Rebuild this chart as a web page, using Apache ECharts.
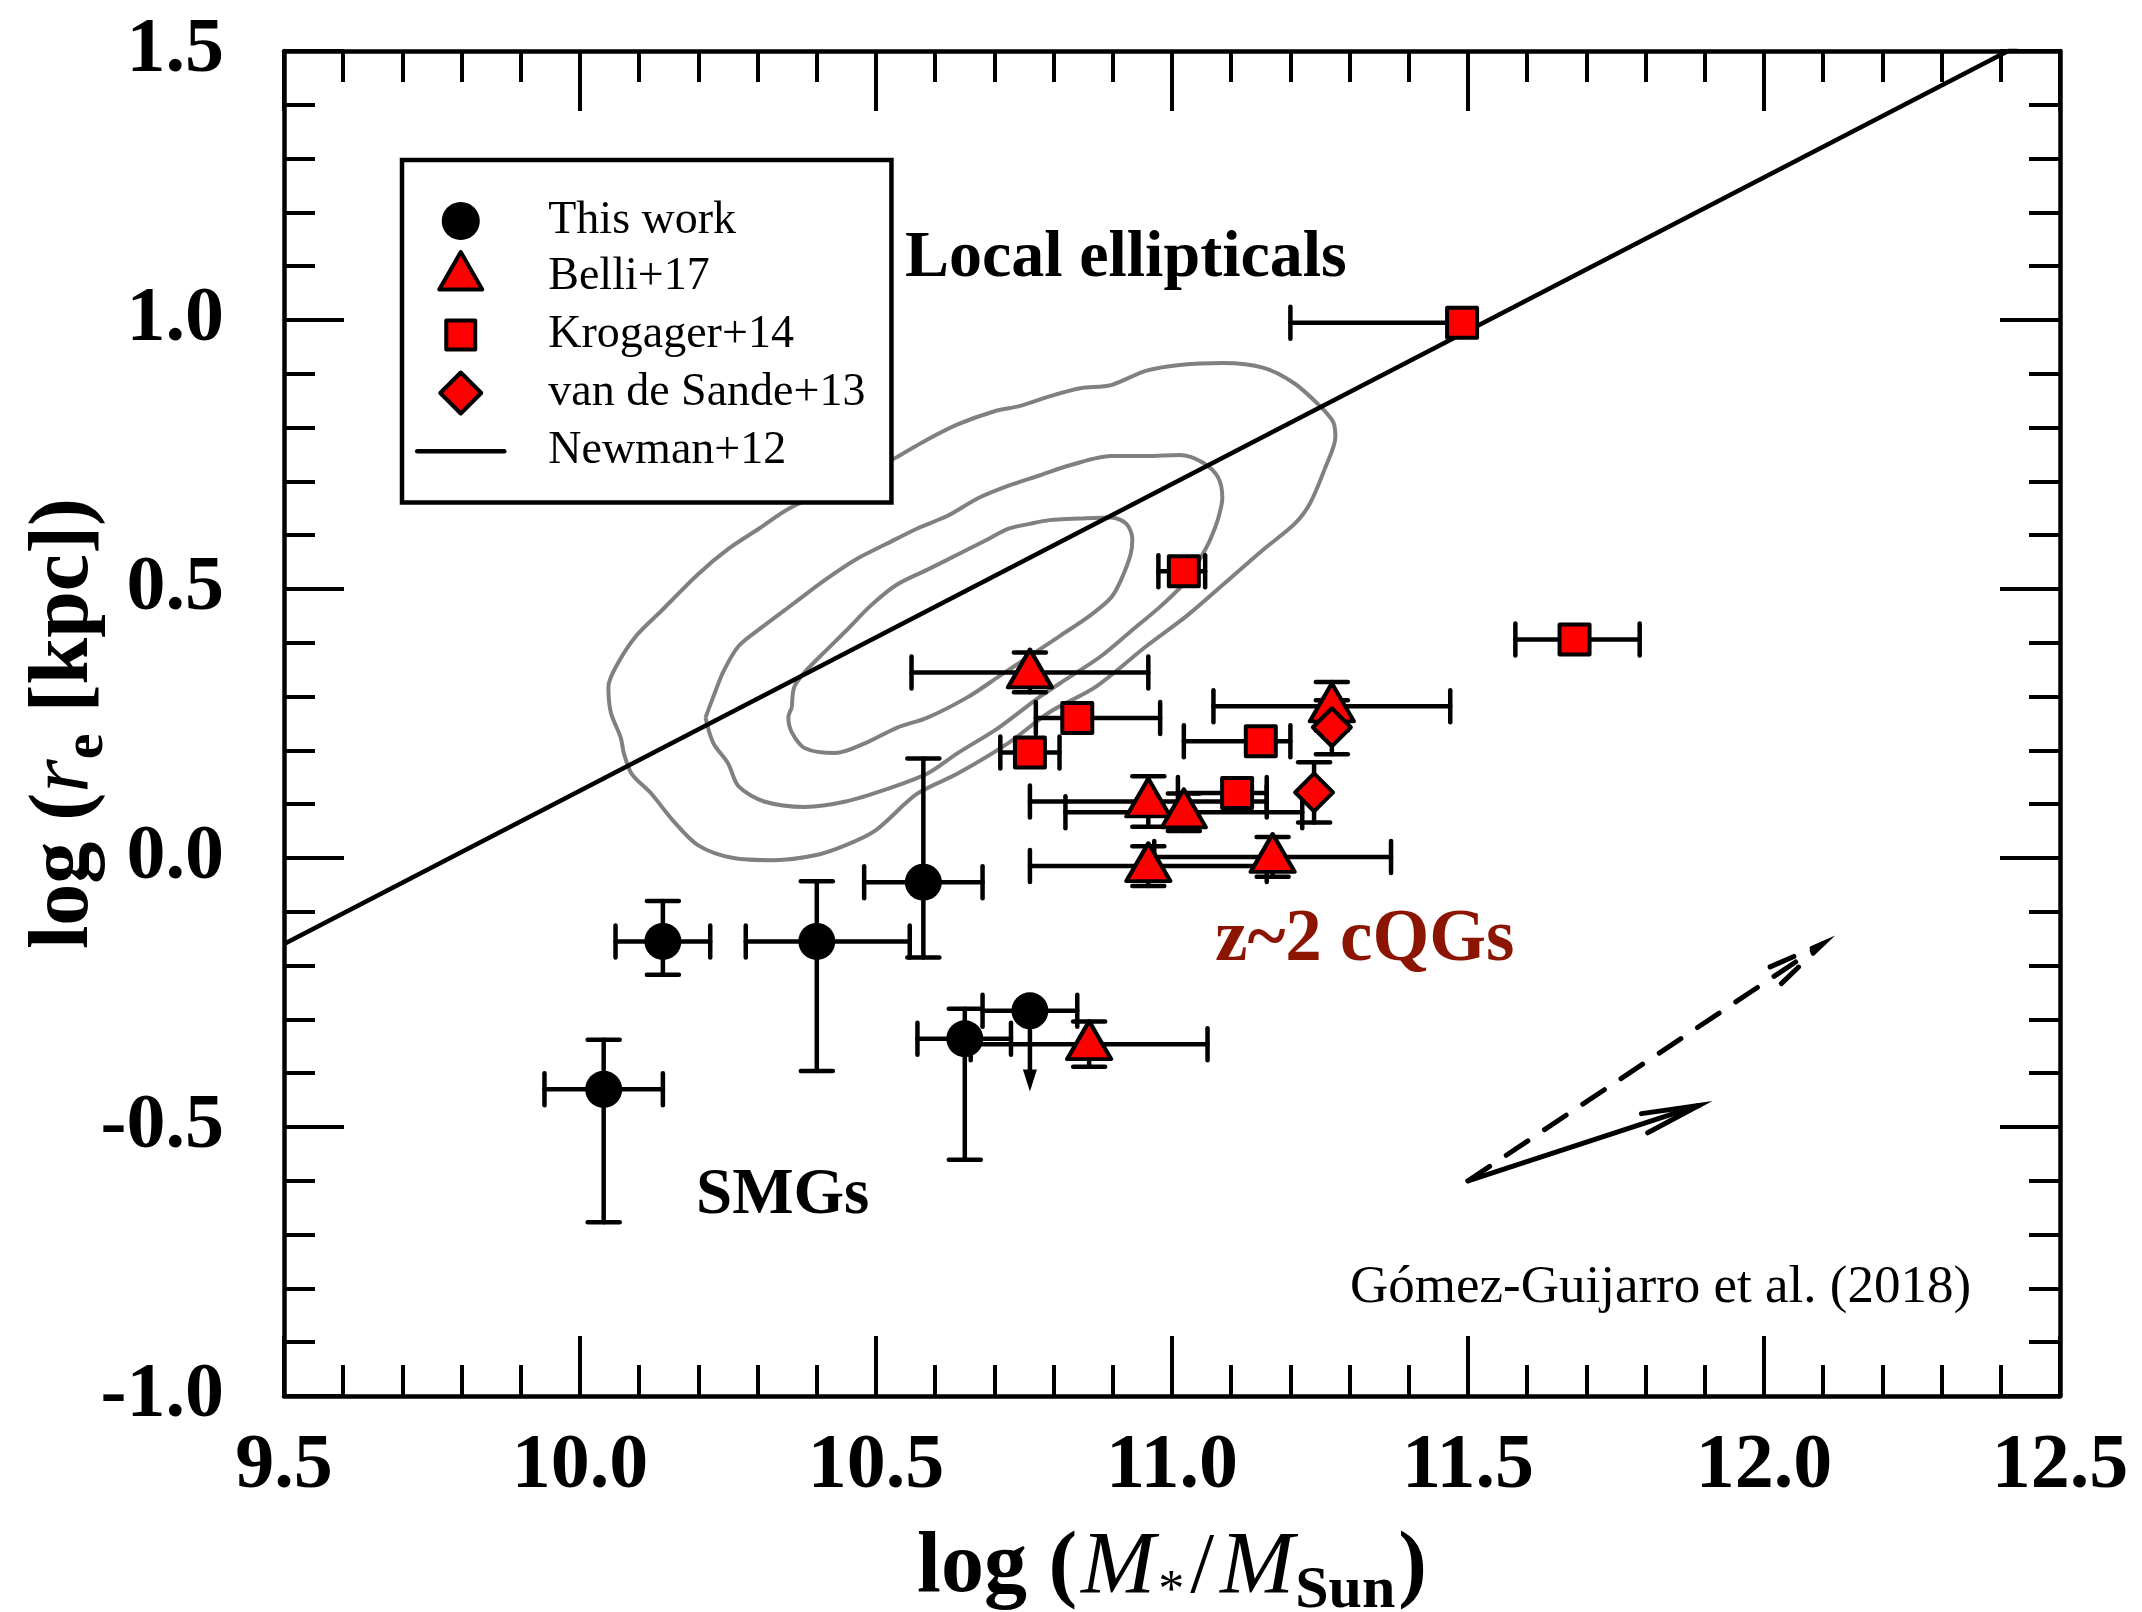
<!DOCTYPE html>
<html>
<head>
<meta charset="utf-8">
<script src="https://cdn.jsdelivr.net/npm/echarts@6/dist/echarts.min.js"></script>
<style>
html,body{margin:0;padding:0;background:#fff;}
#chart{width:2142px;height:1612px;}
</style>
</head>
<body>
<div id="chart"></div>
<script>
// ---------- axes ----------
const xRange = [9.5, 12.5];
const yRange = [-1.0, 1.5];
const majorStep = 0.5;

// ---------- This work (SMGs) ----------
const thisWorkX       = [10.04, 10.14, 10.40, 10.58, 10.65, 10.76];
const thisWorkY       = [-0.430, -0.155, -0.155, -0.045, -0.336, -0.284];
const thisWorkXErrLo  = [0.10, 0.08, 0.12, 0.10, 0.08, 0.08];
const thisWorkXErrHi  = [0.10, 0.08, 0.157, 0.10, 0.078, 0.08];
const thisWorkYErrLo  = [0.247, 0.062, 0.241, 0.140, 0.225, 0];
const thisWorkYErrHi  = [0.092, 0.075, 0.112, 0.230, 0.056, 0];
const thisWorkUpperLimit = [0, 0, 0, 0, 0, 0.15];

// ---------- Belli+17 ----------
const belliX    = [10.76, 10.96, 11.02, 10.96, 11.17, 11.27, 10.86];
const belliY    = [0.345, 0.105, 0.085, -0.015, 0.002, 0.282, -0.346];
const belliXErr = [0.20, 0.20, 0.20, 0.20, 0.20, 0.20, 0.20];
const belliYErr = [0.037, 0.047, 0.035, 0.037, 0.037, 0.045, 0.042];

// ---------- Krogager+14 ----------
const krogX      = [11.49, 11.02, 11.68, 10.84, 10.76, 11.15, 11.11];
const krogY      = [0.995, 0.533, 0.406, 0.260, 0.196, 0.217, 0.121];
const krogXErrLo = [0.29, 0.043, 0.10, 0.07, 0.05, 0.13, 0.10];
const krogXErrHi = [0.0, 0.036, 0.11, 0.14, 0.05, 0.05, 0.05];

// ---------- van de Sande+13 ----------
const vdsX    = [11.27, 11.24];
const vdsY    = [0.243, 0.122];
const vdsYErr = [0.050, 0.056];

// ---------- Newman+12 relation ----------
const newmanX = [9.5, 12.5];
const newmanY = [-0.160, 1.550];

// ---------- Local ellipticals contours ----------
const outerContourX = [10.535,10.587,10.638,10.699,10.742,10.793,10.845,10.897,10.957,11.017,11.086,11.155,11.207,11.250,11.272,11.276,11.259,11.233,11.207,11.155,11.086,11.026,10.957,10.871,10.793,10.724,10.638,10.569,10.500,10.449,10.397,10.328,10.259,10.199,10.156,10.121,10.087,10.074,10.069,10.052,10.048,10.061,10.095,10.138,10.199,10.250,10.302,10.354,10.450,10.535];
const outerContourY = [0.745,0.778,0.806,0.830,0.840,0.858,0.873,0.879,0.906,0.917,0.920,0.911,0.882,0.840,0.811,0.783,0.726,0.659,0.621,0.574,0.508,0.451,0.394,0.318,0.271,0.214,0.157,0.119,0.052,0.024,0.005,-0.004,0.000,0.024,0.071,0.119,0.157,0.195,0.223,0.271,0.318,0.356,0.413,0.460,0.527,0.574,0.612,0.650,0.700,0.745];

const middleContourX = [10.212,10.225,10.242,10.268,10.311,10.362,10.414,10.466,10.518,10.569,10.621,10.673,10.724,10.776,10.828,10.897,10.957,11.013,11.052,11.078,11.085,11.078,11.065,11.052,11.026,10.983,10.931,10.880,10.828,10.776,10.707,10.638,10.587,10.518,10.449,10.380,10.311,10.268,10.250,10.225,10.212];
const middleContourY = [0.261,0.299,0.346,0.394,0.432,0.474,0.517,0.555,0.584,0.612,0.636,0.669,0.692,0.711,0.730,0.747,0.747,0.749,0.735,0.707,0.669,0.631,0.593,0.565,0.517,0.470,0.422,0.375,0.337,0.299,0.242,0.195,0.157,0.128,0.105,0.095,0.105,0.133,0.176,0.214,0.261];

const innerContourX = [10.358,10.362,10.380,10.414,10.449,10.492,10.535,10.587,10.638,10.690,10.724,10.759,10.793,10.845,10.897,10.923,10.933,10.930,10.914,10.897,10.862,10.811,10.759,10.707,10.655,10.587,10.535,10.483,10.431,10.380,10.358,10.352,10.358];
const innerContourY = [0.280,0.318,0.346,0.384,0.422,0.470,0.508,0.536,0.564,0.593,0.612,0.621,0.628,0.631,0.633,0.621,0.593,0.564,0.517,0.484,0.451,0.413,0.375,0.337,0.299,0.261,0.242,0.214,0.195,0.204,0.233,0.261,0.280];

// ---------- evolution arrows ----------
const arrowStartX = [11.50, 11.50];
const arrowStartY = [-0.600, -0.600];
const arrowEndX   = [11.89, 12.10];
const arrowEndY   = [-0.460, -0.159];
const arrowDashed = [0, 1];

// ---------- helpers ----------
const zip2 = (a, b) => a.map((v, i) => [v, b[i]]);
const errData = (xs, ys, xlo, xhi, ylo, yhi, lim) =>
  xs.map((v, i) => [v, ys[i], xlo ? xlo[i] : 0, xhi ? xhi[i] : 0, ylo ? ylo[i] : 0, yhi ? yhi[i] : 0, lim ? lim[i] : 0]);

const FONT = '"Liberation Serif", "Times New Roman", serif';

function errorRender(params, api) {
  const x = api.value(0), y = api.value(1);
  const xlo = api.value(2), xhi = api.value(3), ylo = api.value(4), yhi = api.value(5), lim = api.value(6);
  const c = api.coord([x, y]);
  const cap = 16;
  const st = { stroke: '#000', lineWidth: 4.5, lineCap: 'round' };
  const ch = [];
  const seg = (x1, y1, x2, y2) => ch.push({ type: 'line', shape: { x1, y1, x2, y2 }, style: st });
  if (xlo > 0) { const p = api.coord([x - xlo, y]); seg(p[0], c[1], c[0], c[1]); seg(p[0], c[1] - cap, p[0], c[1] + cap); }
  if (xhi > 0) { const p = api.coord([x + xhi, y]); seg(c[0], c[1], p[0], c[1]); seg(p[0], c[1] - cap, p[0], c[1] + cap); }
  if (yhi > 0) { const p = api.coord([x, y + yhi]); seg(c[0], p[1], c[0], c[1]); seg(c[0] - cap, p[1], c[0] + cap, p[1]); }
  if (ylo > 0) { const p = api.coord([x, y - ylo]); seg(c[0], c[1], c[0], p[1]); seg(c[0] - cap, p[1], c[0] + cap, p[1]); }
  if (lim > 0) {
    const p = api.coord([x, y - lim]);
    seg(c[0], c[1], c[0], p[1] - 18);
    ch.push({ type: 'polygon', shape: { points: [[c[0] - 7, p[1] - 22], [c[0] + 7, p[1] - 22], [c[0], p[1]]] }, style: { fill: '#000' } });
  }
  return { type: 'group', children: ch };
}

function arrowRender(params, api) {
  const p0 = api.coord([api.value(0), api.value(1)]);
  const p1 = api.coord([api.value(2), api.value(3)]);
  const dashed = api.value(4) > 0;
  const st = { stroke: '#000', lineWidth: 5, lineCap: 'round', fill: null };
  if (dashed) st.lineDash = [26, 20];
  const ang = Math.atan2(p0[1] - p1[1], p0[0] - p1[0]);
  const L = 58, da = 10 * Math.PI / 180;
  const w1 = [p1[0] + L * Math.cos(ang + da), p1[1] + L * Math.sin(ang + da)];
  const w2 = [p1[0] + L * Math.cos(ang - da), p1[1] + L * Math.sin(ang - da)];
  return { type: 'group', children: [
    { type: 'line', shape: { x1: p0[0], y1: p0[1], x2: p1[0], y2: p1[1] }, style: st },
    { type: 'polyline', shape: { points: [w1, p1, w2] }, style: st }
  ] };
}

// legend icons: drawn inside an 87 x 50 box (bounding points keep the proportions)
const LW = 87, LH = 50, LC = LH / 2;
const box = 'M0,0M' + LW + ',' + LH;
const circleIcon = (() => {
  let s = box; const r = 19, n = 48;
  for (let k = 0; k <= n; k++) {
    const a = 2 * Math.PI * k / n;
    s += (k === 0 ? 'M' : 'L') + (LW / 2 + r * Math.cos(a)).toFixed(2) + ',' + (LC + r * Math.sin(a)).toFixed(2);
  }
  return 'path://' + s + 'Z';
})();
const triIcon = 'path://' + box + 'M43.5,0L65,37.5L22,37.5Z';
const rectIcon = 'path://' + box + 'M29,10.5L58,10.5L58,39.5L29,39.5Z';
const diaIcon = 'path://' + box + 'M43.5,4.5L64,25L43.5,45.5L23,25Z';
const lineIcon = 'path://' + box + 'M0,25L87,25';

const axisLineStyle = { color: '#000', width: 4.5 };
const tickCfg = { show: true, inside: true, length: 60, lineStyle: { color: '#000', width: 4 } };
const minorCfg = { show: true, splitNumber: 5, length: 31, lineStyle: { color: '#000', width: 4 } };
const tickLabel = {
  fontFamily: FONT, fontWeight: 'bold', fontSize: 78, color: '#000',
  showMinLabel: true, showMaxLabel: true, formatter: v => v.toFixed(1)
};

const contourSeries = (xs, ys) => ({
  type: 'line', data: zip2(xs, ys), showSymbol: false, symbol: 'none', smooth: 0.3,
  lineStyle: { color: '#808080', width: 4 }, z: 1, silent: true
});

const xTitleRich = {
  b: { fontFamily: FONT, fontWeight: 'bold', fontSize: 86, color: '#000' },
  bl: { fontFamily: FONT, fontWeight: 'bold', fontSize: 86, color: '#000', padding: [0, 4, 0, 0] },
  i: { fontFamily: FONT, fontStyle: 'italic', fontSize: 89, color: '#000' },
  s: { fontFamily: FONT, fontSize: 52, color: '#000', padding: [46, 6, 0, 3] },
  sl: { fontFamily: FONT, fontSize: 86, color: '#000', padding: [0, 6, 0, 0] },
  sub: { fontFamily: FONT, fontWeight: 'bold', fontSize: 60, color: '#000', padding: [44, 3, 0, 1] }
};
const yTitleRich = {
  b: { fontFamily: FONT, fontWeight: 'bold', fontSize: 84, color: '#000' },
  i: { fontFamily: FONT, fontStyle: 'italic', fontSize: 86, color: '#000' },
  sub: { fontFamily: FONT, fontWeight: 'bold', fontSize: 58, color: '#000', padding: [43, 0, 0, 0] }
};

const option = {
  animation: false,
  backgroundColor: '#fff',
  grid: { left: 284, right: 82, top: 51, bottom: 216, containLabel: false, outerBoundsMode: 'none' },
  xAxis: [
    {
      type: 'value', min: xRange[0], max: xRange[1], interval: majorStep, position: 'bottom',
      axisLine: { show: true, onZero: false, lineStyle: axisLineStyle },
      axisTick: tickCfg, minorTick: minorCfg, splitLine: { show: false },
      axisLabel: Object.assign({ margin: 32 }, tickLabel),
      name: '{bl|log (}{i|M}{s|*}{sl|/}{i|M}{sub|Sun}{b|)}',
      nameLocation: 'middle', nameGap: 121, nameMoveOverlap: false,
      nameTextStyle: { rich: xTitleRich }
    },
    {
      type: 'value', min: xRange[0], max: xRange[1], interval: majorStep, position: 'top',
      axisLine: { show: true, onZero: false, lineStyle: axisLineStyle },
      axisTick: tickCfg, minorTick: minorCfg, splitLine: { show: false },
      axisLabel: { show: false }
    }
  ],
  yAxis: [
    {
      type: 'value', min: yRange[0], max: yRange[1], interval: majorStep, position: 'left',
      axisLine: { show: true, onZero: false, lineStyle: axisLineStyle },
      axisTick: tickCfg, minorTick: minorCfg, splitLine: { show: false },
      axisLabel: Object.assign({ margin: 60 }, tickLabel),
      name: '{b|log (}{i|r}{sub|e}{b| [kpc])}',
      nameLocation: 'middle', nameGap: 168, nameMoveOverlap: false,
      nameTextStyle: { rich: yTitleRich }
    },
    {
      type: 'value', min: yRange[0], max: yRange[1], interval: majorStep, position: 'right',
      axisLine: { show: true, onZero: false, lineStyle: axisLineStyle },
      axisTick: tickCfg, minorTick: minorCfg, splitLine: { show: false },
      axisLabel: { show: false }
    }
  ],
  legend: {
    orient: 'vertical', left: 402, top: 160,
    selectedMode: false, symbolKeepAspect: true,
    backgroundColor: '#fff', borderColor: '#000', borderWidth: 4.5, borderRadius: 0,
    padding: [36, 26, 24, 13],
    itemWidth: LW, itemHeight: LH, itemGap: 4,
    textStyle: { fontFamily: FONT, fontSize: 46, color: '#000', padding: [0, 0, 0, 39] },
    data: [
      { name: 'This work', icon: circleIcon, itemStyle: { color: '#000', borderWidth: 0 } },
      { name: 'Belli+17', icon: triIcon, itemStyle: { color: '#ff0000', borderWidth: 4, borderColor: '#000', borderJoin: 'round' } },
      { name: 'Krogager+14', icon: rectIcon, itemStyle: { color: '#ff0000', borderWidth: 4, borderColor: '#000', borderJoin: 'round' } },
      { name: 'van de Sande+13', icon: diaIcon, itemStyle: { color: '#ff0000', borderWidth: 4, borderColor: '#000', borderJoin: 'round' } },
      { name: 'Newman+12', icon: lineIcon, itemStyle: { color: 'rgba(0,0,0,0)', borderWidth: 4.5, borderColor: '#000', borderCap: 'round' } }
    ],
    z: 10
  },
  series: [
    contourSeries(outerContourX, outerContourY),
    contourSeries(middleContourX, middleContourY),
    contourSeries(innerContourX, innerContourY),
    {
      name: 'Newman+12', type: 'line', data: zip2(newmanX, newmanY), symbol: 'none', showSymbol: false,
      lineStyle: { color: '#000', width: 4.5 }, itemStyle: { color: '#000' }, z: 2, clip: true, silent: true
    },
    {
      type: 'custom', name: 'arrows', renderItem: arrowRender, z: 2, silent: true,
      data: arrowStartX.map((v, i) => [v, arrowStartY[i], arrowEndX[i], arrowEndY[i], arrowDashed[i]]),
      encode: { x: 0, y: 1 }
    },
    {
      type: 'custom', name: 'errThisWork', renderItem: errorRender, z: 3, silent: true,
      data: errData(thisWorkX, thisWorkY, thisWorkXErrLo, thisWorkXErrHi, thisWorkYErrLo, thisWorkYErrHi, thisWorkUpperLimit),
      encode: { x: 0, y: 1 }
    },
    {
      type: 'custom', name: 'errBelli', renderItem: errorRender, z: 3, silent: true,
      data: errData(belliX, belliY, belliXErr, belliXErr, belliYErr, belliYErr, null),
      encode: { x: 0, y: 1 }
    },
    {
      type: 'custom', name: 'errKrog', renderItem: errorRender, z: 3, silent: true,
      data: errData(krogX, krogY, krogXErrLo, krogXErrHi, null, null, null),
      encode: { x: 0, y: 1 }
    },
    {
      type: 'custom', name: 'errVds', renderItem: errorRender, z: 3, silent: true,
      data: errData(vdsX, vdsY, null, null, vdsYErr, vdsYErr, null),
      encode: { x: 0, y: 1 }
    },
    {
      name: 'This work', type: 'scatter', data: zip2(thisWorkX, thisWorkY),
      symbol: 'circle', symbolSize: 37, itemStyle: { color: '#000', opacity: 1 }, z: 5, silent: true
    },
    {
      name: 'Belli+17', type: 'scatter', data: zip2(belliX, belliY),
      symbol: 'triangle', symbolSize: [44, 38], symbolOffset: [0, -4],
      itemStyle: { color: '#ff0000', borderColor: '#000', borderWidth: 4, borderJoin: 'round', opacity: 1 }, z: 5, silent: true
    },
    {
      name: 'Krogager+14', type: 'scatter', data: zip2(krogX, krogY),
      symbol: 'rect', symbolSize: 30,
      itemStyle: { color: '#ff0000', borderColor: '#000', borderWidth: 4, borderJoin: 'round', opacity: 1 }, z: 5, silent: true
    },
    {
      name: 'van de Sande+13', type: 'scatter', data: zip2(vdsX, vdsY),
      symbol: 'diamond', symbolSize: [38, 38],
      itemStyle: { color: '#ff0000', borderColor: '#000', borderWidth: 4, borderJoin: 'round', opacity: 1 }, z: 5, silent: true
    }
  ],
  graphic: [
    { type: 'text', x: 905, y: 259, z: 20,
      style: { text: 'Local ellipticals', font: 'bold 66px ' + FONT, fill: '#000', align: 'left', verticalAlign: 'middle' } },
    { type: 'text', x: 696, y: 1196, z: 20,
      style: { text: 'SMGs', font: 'bold 65px ' + FONT, fill: '#000', align: 'left', verticalAlign: 'middle' } },
    { type: 'text', x: 1215, y: 941, z: 20,
      style: { text: 'z~2 cQGs', font: 'bold 73px ' + FONT, fill: '#8b1500', align: 'left', verticalAlign: 'middle' } },
    { type: 'text', x: 1350, y: 1288, z: 20,
      style: { text: 'Gómez-Guijarro et al. (2018)', font: '53px ' + FONT, fill: '#000', align: 'left', verticalAlign: 'middle' } }
  ]
};

const chart = echarts.init(document.getElementById('chart'), null, { renderer: 'canvas', width: 2142, height: 1612 });
chart.setOption(option);
</script>
</body>
</html>
